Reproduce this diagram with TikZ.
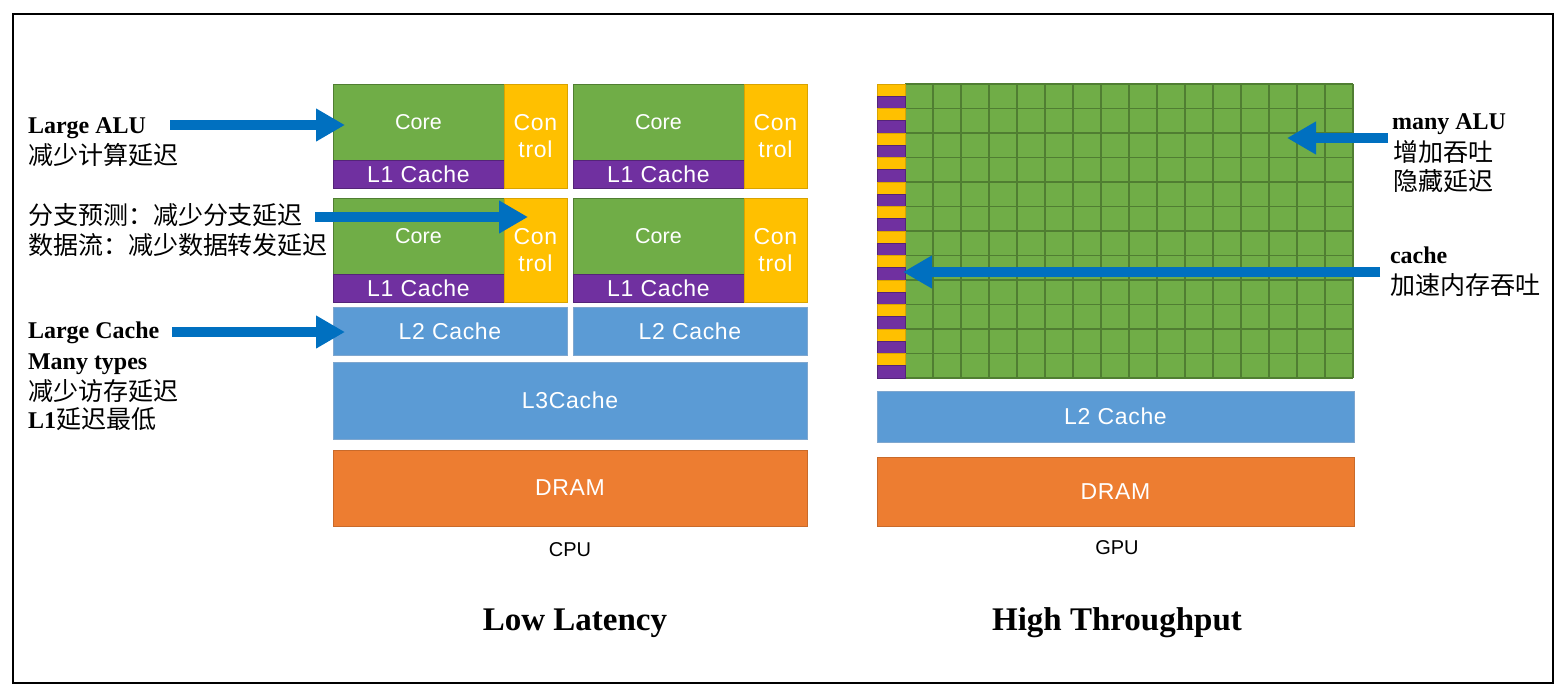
\documentclass[tikz,border=0pt]{standalone}
\usepackage{fontspec}
\setmainfont{Liberation Serif}
\setsansfont{Liberation Sans}
\newfontfamily\bxfam[LetterSpace=3]{Liberation Sans}
\newfontfamily\cjkraw{Noto Sans CJK SC}
\newcommand\cjk{\cjkraw\fontsize{25}{28}\selectfont}
\usetikzlibrary{arrows.meta}
\definecolor{cgreen}{HTML}{70AD47}
\definecolor{cgreend}{HTML}{507E32}
\definecolor{cpurple}{HTML}{7030A0}
\definecolor{cyellow}{HTML}{FFC000}
\definecolor{cblue}{HTML}{5B9BD5}
\definecolor{cblued}{HTML}{7FA7CF}
\definecolor{corange}{HTML}{ED7D31}
\definecolor{carrow}{HTML}{0070C0}
\newcommand\bxfont{\bxfam\fontsize{23}{27}\selectfont}
\newcommand\corefont{\sffamily\fontsize{21.5}{25}\selectfont}
\newcommand\lbfont{\rmfamily\fontsize{24}{28}\selectfont}
\newcommand\ttlfont{\rmfamily\bfseries\fontsize{33}{38}\selectfont}
\newcommand\cpufont{\sffamily\fontsize{20}{24}\selectfont}
\begin{document}
\begin{tikzpicture}[x=1pt,y=-1pt,
  blk/.style={draw, line width=0.8pt, inner sep=0pt, outer sep=0pt, anchor=north west, text=white, font=\bxfont, align=center},
  corebox/.style={blk, fill=cgreen, draw=cgreend, font=\corefont},
  l1box/.style={blk, fill=cpurple, draw=cpurple!75!black},
  ctlbox/.style={blk, fill=cyellow, draw=cyellow!85!black},
  cachebox/.style={blk, fill=cblue, draw=cblued},
  drambox/.style={blk, fill=corange, draw=corange!85!black},
  bigarrow/.style={draw=carrow, line width=9.5pt, -{Triangle[length=29pt,width=31pt]}},
  note/.style={anchor=base west, inner sep=0pt, outer sep=0pt, font=\lbfont},
  title/.style={anchor=base, inner sep=0pt, font=\ttlfont},
  chip/.style={anchor=base, inner sep=0pt, font=\cpufont}]
\useasboundingbox (0,0) rectangle (1567,697);
\draw[line width=1.5pt] (13,14) rectangle (1553,683);

% ---------------- CPU ----------------
% row 1
\node[corebox, minimum width=171pt, minimum height=76pt] (coreA1) at (333,84) {Core};
\node[l1box, minimum width=171pt, minimum height=28pt] (l1A1) at (333,160) {L1 Cache};
\node[ctlbox, minimum width=63pt, minimum height=104pt] (ctlA1) at (504,84) {Con\\trol};
\node[corebox, minimum width=171pt, minimum height=76pt] (coreB1) at (573,84) {Core};
\node[l1box, minimum width=171pt, minimum height=28pt] (l1B1) at (573,160) {L1 Cache};
\node[ctlbox, minimum width=63pt, minimum height=104pt] (ctlB1) at (744,84) {Con\\trol};
% row 2
\node[corebox, minimum width=171pt, minimum height=76pt] (coreA2) at (333,198) {Core};
\node[l1box, minimum width=171pt, minimum height=28pt] (l1A2) at (333,274) {L1 Cache};
\node[ctlbox, minimum width=63pt, minimum height=104pt] (ctlA2) at (504,198) {Con\\trol};
\node[corebox, minimum width=171pt, minimum height=76pt] (coreB2) at (573,198) {Core};
\node[l1box, minimum width=171pt, minimum height=28pt] (l1B2) at (573,274) {L1 Cache};
\node[ctlbox, minimum width=63pt, minimum height=104pt] (ctlB2) at (744,198) {Con\\trol};
% caches
\node[cachebox, minimum width=234pt, minimum height=48pt] (l2A) at (333,307) {L2 Cache};
\node[cachebox, minimum width=234pt, minimum height=48pt] (l2B) at (573,307) {L2 Cache};
\node[cachebox, minimum width=474pt, minimum height=77pt] (l3) at (333,362) {L3Cache};
\node[drambox, minimum width=474pt, minimum height=76pt] (dramC) at (333,450) {DRAM};
\node[chip] (cpu) at (570,556) {CPU};

% ---------------- GPU ----------------
\fill[cgreen] (905,84) rectangle (1353,378);
\foreach \i in {0,...,16} \draw[cgreend, line width=1.2pt] (905+28*\i,84) -- (905+28*\i,378);
\foreach \j in {0,...,12} \draw[cgreend, line width=1.2pt] (905,84+24.5*\j) -- (1353,84+24.5*\j);
\foreach \j in {0,...,11} {
  \filldraw[fill=cyellow, draw=cyellow!85!black, line width=0.6pt] (877,84+24.5*\j) rectangle (905,84+24.5*\j+12.25);
  \filldraw[fill=cpurple, draw=cpurple!75!black, line width=0.6pt] (877,84+24.5*\j+12.25) rectangle (905,84+24.5*\j+24.5);
}
\node[inner sep=0pt, outer sep=0pt, anchor=north west, minimum width=476pt, minimum height=294pt] (gpucores) at (877,84) {};
\node[cachebox, minimum width=477pt, minimum height=51pt] (l2G) at (877,391) {L2 Cache};
\node[drambox, minimum width=477pt, minimum height=69pt] (dramG) at (877,457) {DRAM};
\node[chip] (gpu) at (1117,554) {GPU};

% ---------------- titles ----------------
\node[title] (lowlat) at (575,630) {Low Latency};
\node[title] (highthr) at (1117,630) {High Throughput};

% ---------------- left notes ----------------
\node[note] (t1) at (28,133) {\bfseries Large ALU};
\node[note] (t1b) at (28,164) {\cjk 减少计算延迟};
\node[note] (t2) at (28,224) {\cjk 分支预测：减少分支延迟};
\node[note] (t2b) at (28,254) {\cjk 数据流：减少数据转发延迟};
\node[note] (t3) at (28,338) {\bfseries Large Cache};
\node[note] (t3b) at (28,369) {\bfseries Many types};
\node[note] (t3c) at (28,400) {\cjk 减少访存延迟};
\node[note] (t3d) at (28,428) {\bfseries L1{\mdseries\cjk 延迟最低}};

% ---------------- right notes ----------------
\node[note] (r1) at (1392,129) {\bfseries many ALU};
\node[note] (r1b) at (1393,161) {\cjk 增加吞吐};
\node[note] (r1c) at (1393,190) {\cjk 隐藏延迟};
\node[note] (r2) at (1390,263) {\bfseries cache};
\node[note] (r2b) at (1390,294) {\cjk 加速内存吞吐};

% ---------------- arrows ----------------
\coordinate (a1s) at (170,125);
\coordinate (a1e) at (345,125);
\coordinate (a2s) at (315,217);
\coordinate (a2e) at (528,217);
\coordinate (a3s) at (172,332);
\coordinate (a3e) at (345,332);
\coordinate (a4s) at (1388,138);
\coordinate (a4e) at (1287,138);
\coordinate (a5s) at (1380,272);
\coordinate (a5e) at (903,272);
\draw[bigarrow] (a1s) -- (a1e);
\draw[bigarrow] (a2s) -- (a2e);
\draw[bigarrow] (a3s) -- (a3e);
\draw[bigarrow] (a4s) -- (a4e);
\draw[bigarrow] (a5s) -- (a5e);
\end{tikzpicture}
\end{document}
